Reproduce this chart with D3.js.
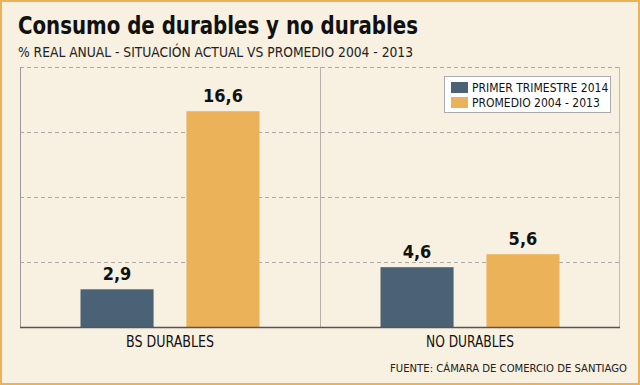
<!DOCTYPE html>
<html>
<head>
<meta charset="utf-8">
<script src="https://cdn.jsdelivr.net/npm/d3@7"></script>
<style>
  body { margin: 0; background: #f8f0e0; }
  svg { display: block; }
</style>
</head>
<body>
<svg width="640" height="385"></svg>
<script>
const categories = ['BS DURABLES', 'NO DURABLES']
const seriesNames = ['PRIMER TRIMESTRE 2014', 'PROMEDIO 2004 - 2013']
const primerTrimestre = [2.9, 4.6]
const promedio = [16.6, 5.6]
const yTicks = [0, 5, 10, 15, 20]

const colors = ['#4a6176', '#ebb25a']
const font = '"DejaVu Sans Condensed", "DejaVu Sans", sans-serif'

let svg = d3.select('svg')
let margin = { left: 20, right: 20, top: 67, bottom: 58 }
let width = 640 - margin.left - margin.right
let height = 385 - margin.top - margin.bottom

// outer frame
svg.append('rect')
  .attr('x', 1).attr('y', 1)
  .attr('width', 638).attr('height', 383)
  .attr('fill', '#f8f0e0')
  .attr('stroke', '#ebb25a')
  .attr('stroke-width', 2)

svg.append('text')
  .text('Consumo de durables y no durables')
  .attr('x', 18).attr('y', 34)
  .attr('textLength', 400)
  .attr('lengthAdjust', 'spacingAndGlyphs')
  .attr('font-family', font)
  .attr('font-weight', 'bold')
  .attr('font-size', 24)
  .attr('fill', '#111')

svg.append('text')
  .text('% REAL ANUAL - SITUACIÓN ACTUAL VS PROMEDIO 2004 - 2013')
  .attr('x', 18).attr('y', 57)
  .attr('textLength', 395)
  .attr('lengthAdjust', 'spacingAndGlyphs')
  .attr('font-family', font)
  .attr('font-size', 14.5)
  .attr('fill', '#222')

let g = svg.append('g')
  .attr('transform', `translate(${margin.left}, ${margin.top})`)

let x0 = d3.scaleBand().domain(categories).range([0, width])
let x1 = d3.scaleBand().domain(seriesNames)
  .range([x0.bandwidth() / 2 - 89.5, x0.bandwidth() / 2 + 89.5])
  .paddingInner(0.31)
let y = d3.scaleLinear().domain([0, 20]).range([height, 0])

// grid
g.selectAll('line.grid')
  .data(yTicks.filter(t => t > 0))
  .enter()
  .append('line')
  .attr('class', 'grid')
  .attr('x1', 0).attr('x2', width)
  .attr('y1', d => y(d) + 0.5).attr('y2', d => y(d) + 0.5)
  .attr('stroke', '#aaa')
  .attr('stroke-dasharray', '4,3')

// category dividers
g.selectAll('line.div')
  .data(categories.slice(1))
  .enter()
  .append('line')
  .attr('x1', d => x0(d) + 0.5).attr('x2', d => x0(d) + 0.5)
  .attr('y1', 0).attr('y2', height)
  .attr('stroke', '#b5b0a8')

g.append('line')
  .attr('x1', 0.5).attr('x2', 0.5)
  .attr('y1', 0).attr('y2', height)
  .attr('stroke', '#999')
g.append('line')
  .attr('x1', width - 0.5).attr('x2', width - 0.5)
  .attr('y1', 0).attr('y2', height)
  .attr('stroke', '#bbb')

let rows = categories.map((c, i) => ({ cat: c, vals: [primerTrimestre[i], promedio[i]] }))

let groups = g.selectAll('g.cat')
  .data(rows)
  .enter()
  .append('g')
  .attr('transform', d => `translate(${x0(d.cat)}, 0)`)

let bars = groups.selectAll('g.bar')
  .data(d => d.vals.map((v, j) => ({ s: seriesNames[j], v: v, j: j })))
  .enter()

bars.append('rect')
  .attr('x', d => x1(d.s))
  .attr('width', x1.bandwidth())
  .attr('y', d => y(d.v))
  .attr('height', d => height - y(d.v))
  .attr('fill', d => colors[d.j])

bars.append('text')
  .text(d => d3.format('.1f')(d.v).replace('.', ','))
  .attr('x', d => x1(d.s) + x1.bandwidth() / 2)
  .attr('y', d => y(d.v) - 9)
  .attr('text-anchor', 'middle')
  .attr('font-family', font)
  .attr('font-weight', 'bold')
  .attr('font-size', 18)
  .attr('fill', '#111')

// baseline
g.append('line')
  .attr('x1', 0).attr('x2', width)
  .attr('y1', height + 0.5).attr('y2', height + 0.5)
  .attr('stroke', '#555')
  .attr('stroke-width', 1.5)

g.selectAll('text.cat')
  .data(categories)
  .enter()
  .append('text')
  .text(d => d)
  .attr('x', d => x0(d) + x0.bandwidth() / 2 - 44)
  .attr('y', height + 20)
  .attr('textLength', 88)
  .attr('lengthAdjust', 'spacingAndGlyphs')
  .attr('font-family', font)
  .attr('font-size', 15)
  .attr('fill', '#111')

svg.append('text')
  .text('FUENTE: CÁMARA DE COMERCIO DE SANTIAGO')
  .attr('x', 627).attr('y', 372)
  .attr('text-anchor', 'end')
  .attr('font-family', font)
  .attr('font-size', 11.2)
  .attr('fill', '#222')

// legend
let legend = svg.append('g').attr('transform', 'translate(444, 76)')
legend.append('rect')
  .attr('x', 0.5).attr('y', 0.5)
  .attr('width', 166).attr('height', 36)
  .attr('fill', '#fff')
  .attr('stroke', '#aaa')
let items = legend.selectAll('g.item')
  .data(seriesNames)
  .enter()
  .append('g')
  .attr('transform', (d, i) => `translate(7, ${6 + i * 15})`)
items.append('rect')
  .attr('width', 17).attr('height', 11)
  .attr('fill', (d, i) => colors[i])
items.append('text')
  .text(d => d)
  .attr('x', 21).attr('y', 10)
  .attr('font-family', font)
  .attr('font-size', 12)
  .attr('fill', '#111')
</script>
</body>
</html>
